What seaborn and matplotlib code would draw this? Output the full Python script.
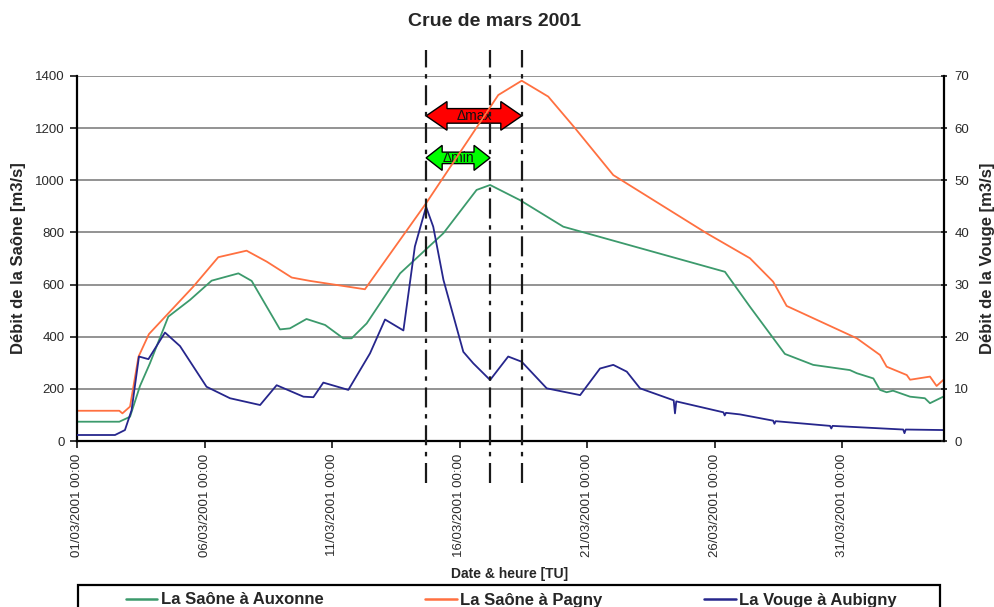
import numpy as np
import pandas as pd
import matplotlib
matplotlib.use("Agg")
import matplotlib.pyplot as plt
import matplotlib.dates as mdates
from matplotlib.patches import Polygon, Rectangle
from matplotlib.lines import Line2D
import seaborn as sns

# ---------------- data (days since 01/03/2001 00:00 TU) ----------------
START = "2001-03-01 00:00"

auxonne_days = [0, 1.66, 2.08, 2.47, 2.86, 3.58, 4.43, 5.28, 6.33, 6.85, 7.96, 8.35,
                9.00, 9.73, 10.44, 10.77, 11.36, 12.67, 14.37, 15.67, 16.20, 17.37,
                19.07, 25.41, 26.39, 27.76, 28.87, 30.31, 30.58, 31.23, 31.49, 31.75,
                32.00, 32.67, 33.25, 33.45, 33.97]
auxonne_q = [74, 74, 93, 211, 298, 477, 541, 615, 643, 614, 428, 432,
             468, 445, 394, 394, 451, 643, 797, 963, 982, 924,
             822, 649, 515, 334, 292, 272, 260, 240, 196, 187,
             193, 170, 164, 145, 170]

pagny_days = [0, 1.66, 1.78, 2.08, 2.41, 2.82, 4.56, 5.54, 6.65, 7.44, 8.42, 9.14,
              11.29, 13.69, 16.52, 17.44, 18.48, 19.53, 21.03, 24.69, 26.39, 27.30,
              27.83, 30.58, 31.49, 31.75, 32.54, 32.67, 33.45, 33.71, 33.97]
pagny_q = [116, 116, 106, 132, 323, 410, 592, 705, 730, 688, 627, 614,
           582, 912, 1327, 1382, 1321, 1200, 1020, 797, 701, 611,
           518, 394, 330, 285, 253, 235, 247, 211, 234]

vouge_days = [0, 1.49, 1.88, 2.14, 2.43, 2.80, 3.45, 4.04, 5.08, 6.00, 7.18, 7.83,
              8.88, 9.27, 9.66, 10.64, 11.49, 12.08, 12.80, 13.25, 13.69, 13.97,
              14.37, 15.15, 15.54, 16.20, 16.91, 17.44, 18.42, 19.73, 20.51, 21.03,
              21.56, 22.08, 23.40, 23.45, 23.50, 25.35, 25.40, 25.45, 26.00, 27.30,
              27.35, 27.40, 29.53, 29.58, 29.63, 32.40, 32.45, 32.50, 33.97]
vouge_q = [1.15, 1.15, 2.1, 5.9, 16.2, 15.7, 20.8, 18.2, 10.4, 8.2, 6.9, 10.7,
           8.5, 8.4, 11.2, 9.8, 16.8, 23.3, 21.2, 37.3, 44.9, 41.1,
           30.9, 17.1, 14.9, 11.7, 16.2, 15.2, 10.1, 8.8, 13.9, 14.6,
           13.3, 10.1, 7.8, 5.3, 7.6, 5.5, 4.9, 5.4, 5.1, 3.9,
           3.3, 3.8, 2.9, 2.4, 2.9, 2.2, 1.5, 2.2, 2.1]

# instants of the peaks (vertical marker lines): Vouge, Auxonne, Pagny
event_days = [13.69, 16.20, 17.44]

tick_days = [0, 5, 10, 15, 20, 25, 30]
tick_labels = ["01/03/2001 00:00", "06/03/2001 00:00", "11/03/2001 00:00",
               "16/03/2001 00:00", "21/03/2001 00:00", "26/03/2001 00:00",
               "31/03/2001 00:00"]

series_names = ["La Saône à Auxonne", "La Saône à Pagny", "La Vouge à Aubigny"]
series_colors = ["#3c9a6c", "#ff7040", "#26268c"]

# ---------------- helpers ----------------
t0 = pd.Timestamp(START)


def to_time(days):
    return t0 + pd.to_timedelta(np.asarray(days, dtype=float), unit="D")


df_saone = pd.concat([
    pd.DataFrame({"time": to_time(auxonne_days), "q": auxonne_q, "serie": series_names[0]}),
    pd.DataFrame({"time": to_time(pagny_days), "q": pagny_q, "serie": series_names[1]}),
])
df_vouge = pd.DataFrame({"time": to_time(vouge_days), "q": vouge_q, "serie": series_names[2]})

sns.set_style("white")
plt.rcParams["font.family"] = ["Liberation Sans", "DejaVu Sans"]

fig = plt.figure(figsize=(9.95, 6.07), dpi=100)
ax = fig.add_axes([77 / 995, 1 - 441 / 607, 867 / 995, 365 / 607])
ax2 = ax.twinx()

palette = dict(zip(series_names, series_colors))
sns.lineplot(data=df_saone, x="time", y="q", hue="serie", palette=palette,
             ax=ax, legend=False, linewidth=1.3, estimator=None, sort=False)
sns.lineplot(data=df_vouge, x="time", y="q", hue="serie", palette=palette,
             ax=ax2, legend=False, linewidth=1.3, estimator=None, sort=False)

ax.set_xlim(t0, t0 + pd.Timedelta(days=34))
ax.set_ylim(0, 1400)
ax2.set_ylim(0, 70)
ax.set_yticks(np.arange(0, 1401, 200))
ax2.set_yticks(np.arange(0, 71, 10))
ax.set_xticks(to_time(tick_days))
ax.set_xticklabels(tick_labels, rotation=90, va="top", ha="center")

ax.grid(axis="y", color="#8a8a8a", linewidth=1.3)
ax.grid(axis="x", visible=False)
ax2.grid(False)

for a in (ax, ax2):
    a.spines["top"].set_visible(False)
    for s in a.spines.values():
        s.set_color("black")
        s.set_linewidth(1.6)
ax.spines["right"].set_visible(False)
ax2.spines["left"].set_visible(False)
ax2.spines["bottom"].set_visible(False)

tick_color = "#2a2a2a"
ax.tick_params(axis="y", which="major", left=True, direction="out", length=5, width=1.3,
               pad=4, labelsize=9.5, labelcolor=tick_color)
ax.tick_params(axis="x", which="major", bottom=True, direction="out", length=5, width=1.3,
               pad=4, labelsize=9.5, labelcolor=tick_color)
ax2.tick_params(axis="y", which="major", right=True, direction="inout", length=5, width=1.3,
                pad=5, labelsize=9.5, labelcolor=tick_color)

ax.set_xlabel("")
ax.set_ylabel("Débit de la Saône [m3/s]", fontsize=12, fontweight="bold")
ax2.set_ylabel("Débit de la Vouge [m3/s]", fontsize=12, fontweight="bold")
ax.yaxis.set_label_coords(-0.059, 0.5)
ax2.yaxis.set_label_coords(1.041, 0.5)

# vertical dash-dot marker lines (extend beyond the axes)
for d in event_days:
    xv = mdates.date2num(to_time([d])[0])
    ax2.plot([xv, xv], [-0.115, 1.071], transform=ax2.get_xaxis_transform(),
             clip_on=False, color="#1a1a1a", linewidth=1.6,
             linestyle=(0, (9, 3, 2, 3)), zorder=5)


def double_arrow(a, d0, d1, y, head_len, head_half, body_half, fc, label):
    x0 = mdates.date2num(to_time([d0])[0])
    x1 = mdates.date2num(to_time([d1])[0])
    verts = [(x0, y), (x0 + head_len, y + head_half), (x0 + head_len, y + body_half),
             (x1 - head_len, y + body_half), (x1 - head_len, y + head_half), (x1, y),
             (x1 - head_len, y - head_half), (x1 - head_len, y - body_half),
             (x0 + head_len, y - body_half), (x0 + head_len, y - head_half)]
    a.add_patch(Polygon(verts, closed=True, facecolor=fc, edgecolor="black",
                        linewidth=1.0, zorder=1.5))
    a.text((x0 + x1) / 2, y, label, ha="center", va="center", fontsize=10,
           color="#111111", zorder=1.6)


double_arrow(ax, event_days[0], event_days[2], 1247, 0.82, 55, 28, "#ff0000", "Δmax")
double_arrow(ax, event_days[0], event_days[1], 1086, 0.63, 48, 22, "#00ff00", "Δmin")

# title & x label
fig.text(495 / 995, 1 - 22 / 607, "Crue de mars 2001", ha="center", va="center",
         fontsize=14, fontweight="bold")
fig.text(510 / 995, 1 - 574 / 607, "Date & heure [TU]", ha="center", va="center",
         fontsize=10, fontweight="bold")

# legend (box partly cut by the bottom edge of the figure)
fig.add_artist(Rectangle((78 / 995, -0.05), 862 / 995, (607 - 585) / 607 + 0.05,
                         transform=fig.transFigure, fill=False, edgecolor="black",
                         linewidth=1.6, clip_on=False))
handles = [Line2D([], [], color=c, linewidth=1.8) for c in series_colors]
fig.legend(handles, series_names, loc="center", bbox_to_anchor=(511 / 995, 1 - 600 / 607),
           ncol=3, frameon=False, columnspacing=6.1, handlelength=1.9, handletextpad=0.2,
           prop={"weight": "bold", "size": 12})

fig.savefig("out.png", dpi=100)
